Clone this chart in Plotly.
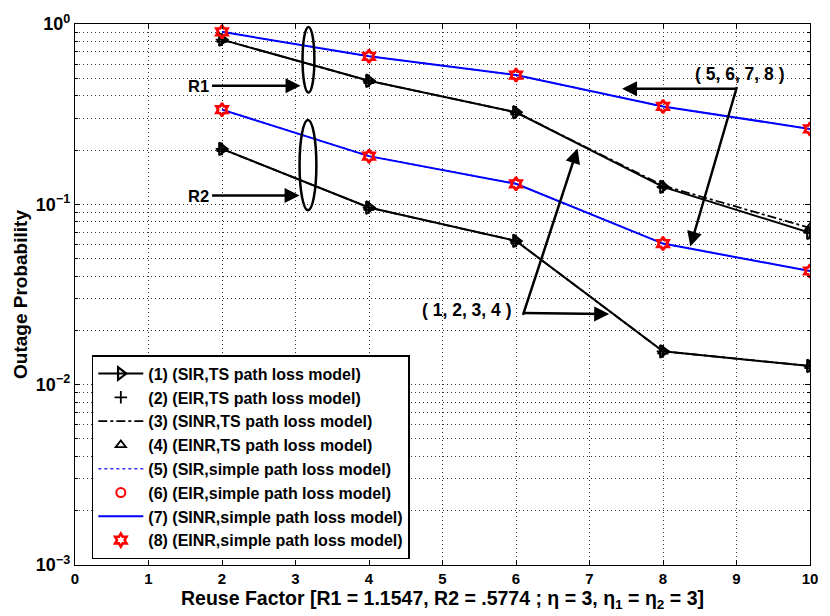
import plotly.graph_objects as go

# ---------------- data ----------------
reuse = [2, 4, 6, 8, 10]

# R1 (upper group)
r1_ts_sir = [0.819, 0.484, 0.324, 0.125, 0.0695]
r1_ts_eir = [0.819, 0.484, 0.324, 0.125, 0.0695]
r1_ts_sinr = [0.819, 0.484, 0.324, 0.127, 0.074]
r1_ts_einr = [0.819, 0.484, 0.324, 0.127, 0.074]
r1_simple = [0.905, 0.662, 0.521, 0.349, 0.262]

# R2 (lower group)
r2_ts_sir = [0.203, 0.096, 0.0627, 0.0153, 0.0127]
r2_ts_eir = [0.203, 0.096, 0.0627, 0.0153, 0.0127]
r2_ts_sinr = [0.203, 0.096, 0.0627, 0.0153, 0.0127]
r2_ts_einr = [0.203, 0.096, 0.0627, 0.0153, 0.0127]
r2_simple = [0.335, 0.185, 0.130, 0.0606, 0.0427]

legend_names = [
    "(1) (SIR,TS path loss model)",
    "(2) (EIR,TS path loss model)",
    "(3) (SINR,TS path loss model)",
    "(4) (EINR,TS path loss model)",
    "(5) (SIR,simple path loss model)",
    "(6) (EIR,simple path loss model)",
    "(7) (SINR,simple path loss model)",
    "(8) (EINR,simple path loss model)",
]

x_ticks = list(range(0, 11))
y_decades = [1e-3, 1e-2, 1e-1, 1]
y_decade_labels = ["10<sup>−3</sup>", "10<sup>−2</sup>", "10<sup>−1</sup>", "10<sup>0</sup>"]

# ---------------- layout helpers ----------------
L, R, T, B = 75, 818, 16, 568
W, H = 830, 616


def px(x):
    return (x - L) / (R - L)


def py(y):
    return (B - y) / (B - T)


FONT = "Arial, 'Liberation Sans', Helvetica, sans-serif"

fig = go.Figure()

styles = [
    dict(mode="lines+markers", line=dict(color="black", width=2),
         marker=dict(symbol="triangle-right-open", size=11, color="black", line=dict(width=2.2, color="black"))),
    dict(mode="markers",
         marker=dict(symbol="cross-thin-open", size=9, color="black", line=dict(width=1.8, color="black"))),
    dict(mode="lines", line=dict(color="black", width=1.8, dash="dashdot")),
    dict(mode="markers",
         marker=dict(symbol="triangle-up-open", size=9, color="black", line=dict(width=1.8, color="black"))),
    dict(mode="lines", line=dict(color="#3333ff", width=1.5, dash="dot")),
    dict(mode="markers",
         marker=dict(symbol="circle-open", size=9, color="red", line=dict(width=2, color="red"))),
    dict(mode="lines", line=dict(color="#0000ff", width=2)),
    dict(mode="markers",
         marker=dict(symbol="hexagram-open", size=10, color="red", line=dict(width=2.6, color="red"))),
]

group_r1 = [r1_ts_sir, r1_ts_eir, r1_ts_sinr, r1_ts_einr, r1_simple, r1_simple, r1_simple, r1_simple]
group_r2 = [r2_ts_sir, r2_ts_eir, r2_ts_sinr, r2_ts_einr, r2_simple, r2_simple, r2_simple, r2_simple]

# draw order: lines first, then markers on top
order = [2, 4, 6, 0, 1, 3, 5, 7]
for i in order:
    for gi, grp in enumerate([group_r1, group_r2]):
        fig.add_trace(go.Scatter(
            x=reuse, y=grp[i], name=legend_names[i],
            legendrank=i + 1,
            showlegend=(gi == 0), **styles[i]))

minor_vals = [d * m for d in [1e-3, 1e-2, 1e-1] for m in range(2, 10)]

GRID = dict(showgrid=True, gridcolor="#333333", griddash="1px,3px", gridwidth=1)

fig.update_xaxes(
    range=[0, 10], tickvals=x_ticks, ticktext=[str(v) for v in x_ticks],
    showline=True, linecolor="black", linewidth=1.3, mirror="ticks",
    ticks="inside", ticklen=5, tickcolor="black",
    zeroline=False, **GRID,
    tickfont=dict(family=FONT, size=15, color="black", weight="bold"),
    title=dict(text="Reuse Factor [R1 = 1.1547, R2 = .5774 ; η = 3, η<sub>1</sub> = η<sub>2</sub> = 3]",
               font=dict(family=FONT, size=19.5, color="black", weight="bold"), standoff=3),
)
fig.update_yaxes(
    type="log", range=[-3, 0], tickvals=y_decades, ticktext=y_decade_labels,
    showline=True, linecolor="black", linewidth=1.3, mirror="ticks",
    ticks="inside", ticklen=5, tickcolor="black",
    zeroline=False, **GRID,
    minor=dict(tickvals=minor_vals, ticks="inside", ticklen=3, tickcolor="black",
               showgrid=True, gridcolor="#333333", griddash="1px,3px", gridwidth=1),
    tickfont=dict(family=FONT, size=18, color="black", weight="bold"),
    title=dict(text="Outage Probability",
               font=dict(family=FONT, size=19, color="black", weight="bold"), standoff=3),
)

fig.update_layout(
    width=W, height=H,
    margin=dict(l=L, r=W - R, t=T, b=H - B),
    paper_bgcolor="white", plot_bgcolor="white",
    showlegend=True,
    legend=dict(
        x=px(92), y=py(562), xanchor="left", yanchor="bottom",
        bgcolor="white", bordercolor="black", borderwidth=1.5,
        font=dict(family=FONT, size=16, color="black", weight="bold"),
        itemwidth=45, traceorder="normal",
    ),
)

# ellipses
for (x0, x1, y0, y1) in [(305, 317, 19, 86), (302, 319, 114, 206)]:
    fig.add_shape(type="circle", xref="paper", yref="paper",
                  x0=px(x0), x1=px(x1), y0=py(y1), y1=py(y0),
                  line=dict(color="black", width=2.5))

# arrows: (head_x, head_y, tail_x, tail_y)
arrows = [
    (303, 79, 213, 79),
    (302, 191, 213, 191),
    (628, 82, 744, 82),
    (697, 243, 744, 82),
    (615, 312, 528, 311),
    (583, 143, 528, 311),
]
for hx, hy, tx, ty in arrows:
    fig.add_annotation(xref="paper", yref="paper", x=px(hx), y=py(hy),
                       ax=tx - hx, ay=ty - hy, axref="pixel", ayref="pixel",
                       text="", showarrow=True, arrowhead=2, arrowsize=1.2,
                       arrowwidth=2.5, arrowcolor="black", standoff=0, startstandoff=0)

labels = [("R1", 200, 79, 16.5), ("R2", 200, 191, 16.5),
          ("( 5, 6, 7, 8 )", 747, 67, 17.5), ("( 1, 2, 3, 4 )", 471, 308, 17.5)]
for t, x, y, s in labels:
    fig.add_annotation(xref="paper", yref="paper", x=px(x), y=py(y), text=t,
                       showarrow=False, xanchor="center", yanchor="middle",
                       font=dict(family=FONT, size=s, color="black", weight="bold"))

fig.write_html("out.html")
